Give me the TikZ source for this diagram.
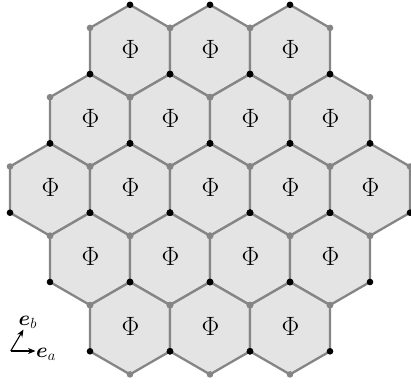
\RequirePackage{fix-cm}
\documentclass[tikz,border=0pt]{standalone}
\usepackage{amsmath}
\usetikzlibrary{arrows.meta}
\definecolor{edgegray}{HTML}{858585}
\definecolor{cellfill}{HTML}{E4E4E4}
\tikzset{
  cell/.style={fill=cellfill, draw=edgegray, line width=2.3pt, line join=round},
  bdot/.style={fill=black},
  gdot/.style={fill=edgegray},
  philabel/.style={font=\fontsize{26.5}{30}\selectfont, inner sep=0pt},
  basis/.style={-{Stealth[length=7.5pt,width=6pt]}, line width=1.1pt},
  blabel/.style={font=\fontsize{21}{25}\selectfont, inner sep=0pt}
}
\begin{document}
\begin{tikzpicture}[x=1pt,y=-1pt]
\useasboundingbox (0,0) rectangle (411,390);
\def\R{46.19}
\def\h{23.095}
\def\A{40}
\def\cells{130/51, 210/51, 290/51,
  90/120.3, 170/120.3, 250/120.3, 330/120.3,
  50/189.6, 130/189.6, 210/189.6, 290/189.6, 370/189.6,
  90/258.9, 170/258.9, 250/258.9, 330/258.9,
  130/328.2, 210/328.2, 290/328.2}
\foreach \cx/\cy in \cells {
  \path[cell] ({\cx},{\cy-\R}) -- ({\cx+\A},{\cy-\h}) -- ({\cx+\A},{\cy+\h})
    -- ({\cx},{\cy+\R}) -- ({\cx-\A},{\cy+\h}) -- ({\cx-\A},{\cy-\h}) -- cycle;
}
\foreach \cx/\cy [count=\i] in \cells {
  \node[philabel] (phi\i) at ({\cx+0.5},{\cy-2}) {$\Phi$};
}
\foreach \cx/\cy in \cells {
  \fill[bdot] ({\cx},{\cy-\R}) circle (3.3);
  \fill[bdot] ({\cx+\A},{\cy+\h}) circle (3.3);
  \fill[bdot] ({\cx-\A},{\cy+\h}) circle (3.3);
  \fill[gdot] ({\cx},{\cy+\R}) circle (3.3);
  \fill[gdot] ({\cx+\A},{\cy-\h}) circle (3.3);
  \fill[gdot] ({\cx-\A},{\cy-\h}) circle (3.3);
}
\coordinate (o) at (10.7,351);
\coordinate (ta) at (35.5,351);
\coordinate (tb) at (23.5,329.5);
\draw[basis] (o) -- (ta);
\draw[basis] (o) -- (tb);
\node[blabel, anchor=west] (ea) at (36,354) {$\boldsymbol{e}_a$};
\node[blabel, anchor=west] (eb) at (18.5,322) {$\boldsymbol{e}_b$};
\end{tikzpicture}
\end{document}
